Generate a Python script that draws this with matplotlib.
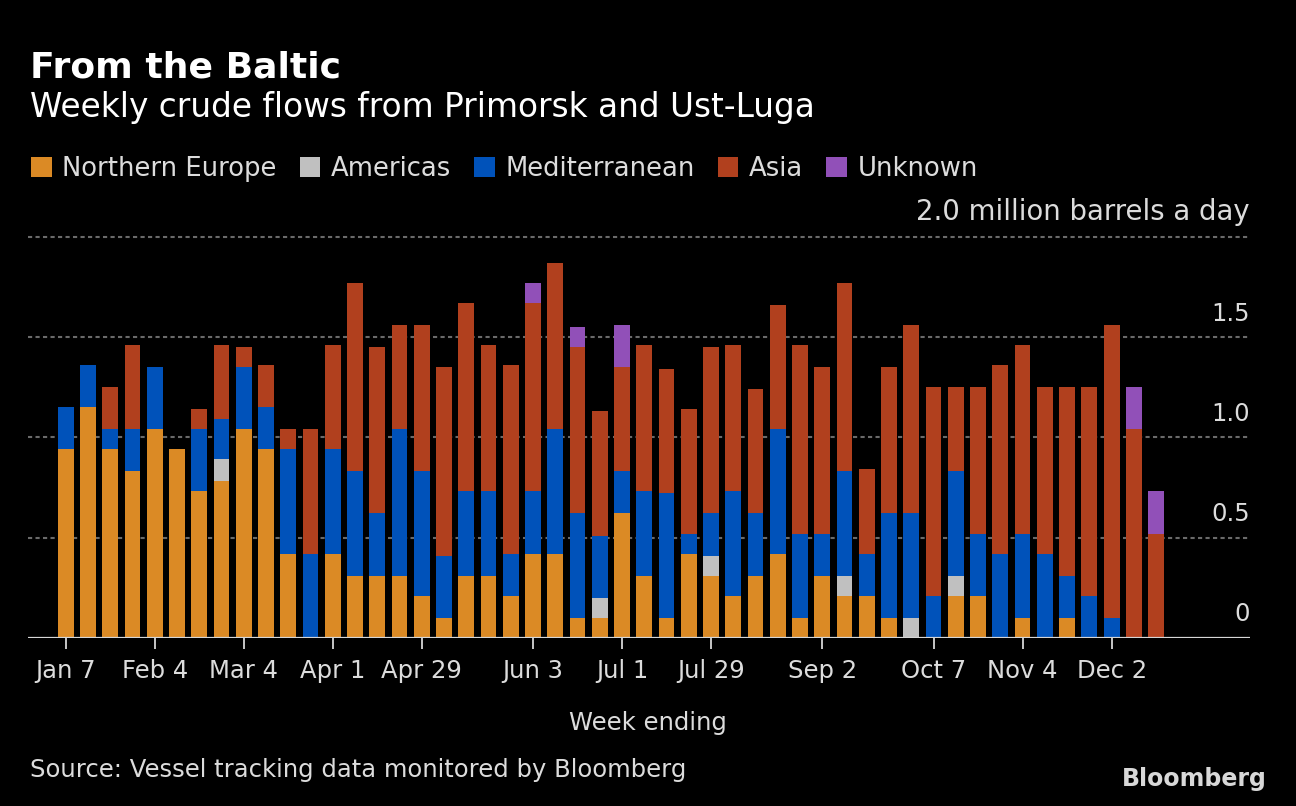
import numpy as np
import matplotlib
matplotlib.use('Agg')
import matplotlib.pyplot as plt
from matplotlib.patches import Patch

# weekly crude flows, million barrels a day, weeks ending Jan 7 .. Dec 16
weeks = ['Jan 7', 'Jan 14', 'Jan 21', 'Jan 28', 'Feb 4', 'Feb 11', 'Feb 18', 'Feb 25',
         'Mar 4', 'Mar 11', 'Mar 18', 'Mar 25', 'Apr 1', 'Apr 8', 'Apr 15', 'Apr 22',
         'Apr 29', 'May 6', 'May 13', 'May 20', 'May 27', 'Jun 3', 'Jun 10', 'Jun 17',
         'Jun 24', 'Jul 1', 'Jul 8', 'Jul 15', 'Jul 22', 'Jul 29', 'Aug 5', 'Aug 12',
         'Aug 19', 'Aug 26', 'Sep 2', 'Sep 9', 'Sep 16', 'Sep 23', 'Sep 30', 'Oct 7',
         'Oct 14', 'Oct 21', 'Oct 28', 'Nov 4', 'Nov 11', 'Nov 18', 'Nov 25', 'Dec 2',
         'Dec 9', 'Dec 16']

northern_europe = [0.94, 1.15, 0.94, 0.83, 1.04, 0.94, 0.73, 0.78, 1.04, 0.94,
                   0.42, 0.00, 0.42, 0.31, 0.31, 0.31, 0.21, 0.10, 0.31, 0.31,
                   0.21, 0.42, 0.42, 0.10, 0.10, 0.62, 0.31, 0.10, 0.42, 0.31,
                   0.21, 0.31, 0.42, 0.10, 0.31, 0.21, 0.21, 0.10, 0.00, 0.00,
                   0.21, 0.21, 0.00, 0.10, 0.00, 0.10, 0.00, 0.00, 0.00, 0.00]
americas = [0, 0, 0, 0, 0, 0, 0, 0.11, 0, 0,
            0, 0, 0, 0, 0, 0, 0, 0, 0, 0,
            0, 0, 0, 0, 0.10, 0, 0, 0, 0, 0.10,
            0, 0, 0, 0, 0, 0.10, 0, 0, 0.10, 0,
            0.10, 0, 0, 0, 0, 0, 0, 0, 0, 0]
mediterranean = [0.21, 0.21, 0.10, 0.21, 0.31, 0.00, 0.31, 0.20, 0.31, 0.21,
                 0.52, 0.42, 0.52, 0.52, 0.31, 0.73, 0.62, 0.31, 0.42, 0.42,
                 0.21, 0.31, 0.62, 0.52, 0.31, 0.21, 0.42, 0.62, 0.10, 0.21,
                 0.52, 0.31, 0.62, 0.42, 0.21, 0.52, 0.21, 0.52, 0.52, 0.21,
                 0.52, 0.31, 0.42, 0.42, 0.42, 0.21, 0.21, 0.10, 0.00, 0.00]
asia = [0.00, 0.00, 0.21, 0.42, 0.00, 0.00, 0.10, 0.37, 0.10, 0.21,
        0.10, 0.62, 0.52, 0.94, 0.83, 0.52, 0.73, 0.94, 0.94, 0.73,
        0.94, 0.94, 0.83, 0.83, 0.62, 0.52, 0.73, 0.62, 0.62, 0.83,
        0.73, 0.62, 0.62, 0.94, 0.83, 0.94, 0.42, 0.73, 0.94, 1.04,
        0.42, 0.73, 0.94, 0.94, 0.83, 0.94, 1.04, 1.46, 1.04, 0.52]
unknown = [0, 0, 0, 0, 0, 0, 0, 0, 0, 0,
           0, 0, 0, 0, 0, 0, 0, 0, 0, 0,
           0, 0.10, 0, 0.10, 0, 0.21, 0, 0, 0, 0,
           0, 0, 0, 0, 0, 0, 0, 0, 0, 0,
           0, 0, 0, 0, 0, 0, 0, 0, 0.21, 0.21]

series_names = ['Northern Europe', 'Americas', 'Mediterranean', 'Asia', 'Unknown']
colors = ['#db8a25', '#c0c0c0', '#0052ba', '#b1401e', '#9150b8']

tick_labels = ['Jan 7', 'Feb 4', 'Mar 4', 'Apr 1', 'Apr 29', 'Jun 3', 'Jul 1',
               'Jul 29', 'Sep 2', 'Oct 7', 'Nov 4', 'Dec 2']
y_ticks = [0, 0.5, 1.0, 1.5, 2.0]
y_labels = ['0', '0.5', '1.0', '1.5', '2.0 million barrels a day']

W, H = 1296, 806
fig = plt.figure(figsize=(W / 100, H / 100), dpi=100, facecolor='black')

# axes: left edge x=28, right x=1250, baseline y=637.7, 2.0 line at y=237
ax = fig.add_axes([28 / W, 1 - 637.7 / H, (1250 - 28) / W, (637.7 - 237) / H])
ax.set_facecolor('black')
for s in ax.spines.values():
    s.set_visible(False)

x = np.arange(len(weeks))
bottom = np.zeros(len(weeks))
for name, vals, c in zip(series_names,
                         [northern_europe, americas, mediterranean, asia, unknown],
                         colors):
    vals = np.array(vals)
    ax.bar(x, vals, width=0.71, bottom=bottom, color=c, zorder=3, linewidth=0)
    bottom += vals

ax.set_xlim(-1.70, 53.22)
ax.set_ylim(0, 2.0)

for v in y_ticks[1:]:
    ax.axhline(v, color='#6a6a6a', lw=1.5, ls=(0, (2.0, 1.6)), zorder=1, clip_on=False)
ax.axhline(0, color='#d6d6d6', lw=1.6, zorder=4)

for v, lab in zip(y_ticks, y_labels):
    # the unit label reads wider in the original font
    fs = 19.8 if len(lab) > 4 else 17.5
    ax.annotate(lab, xy=(1.0, v), xycoords=ax.get_yaxis_transform(),
                xytext=(0, 12), textcoords='offset points', ha='right', va='baseline',
                fontsize=fs, color='#dcdcdc')

tick_pos = [weeks.index(t) for t in tick_labels]
ax.set_xticks(tick_pos)
ax.set_xticklabels(tick_labels, fontsize=17.5, color='#dcdcdc')
ax.tick_params(axis='x', length=8, width=1.3, color='#d6d6d6', pad=7)
ax.set_yticks([])

fig.text(30 / W, 1 - 78 / H, 'From the Baltic', fontsize=26, fontweight='bold',
         color='white', va='baseline')
fig.text(30 / W, 1 - 117 / H, 'Weekly crude flows from Primorsk and Ust-Luga',
         fontsize=23.6, color='white', va='baseline')

handles = [Patch(facecolor=c, edgecolor='none') for c in colors]
fig.legend(handles, series_names, loc='upper left', bbox_to_anchor=(31 / W, 1 - 156 / H),
           ncol=5, frameon=False, fontsize=18.6, labelcolor='#dcdcdc',
           handlelength=0.8, handleheight=0.8, handletextpad=0.4,
           columnspacing=0.9, borderaxespad=0, borderpad=0)

fig.text(648 / W, 1 - 730 / H, 'Week ending', fontsize=17.5, color='#dcdcdc',
         ha='center', va='baseline')
fig.text(30 / W, 1 - 777 / H, 'Source: Vessel tracking data monitored by Bloomberg',
         fontsize=17.5, color='#dcdcdc', va='baseline')
fig.text(1267 / W, 1 - 786 / H, 'Bloomberg', fontsize=17, fontweight='bold',
         color='#d8d8d8', ha='right', va='baseline')

fig.savefig('out.png', dpi=100, facecolor='black')
